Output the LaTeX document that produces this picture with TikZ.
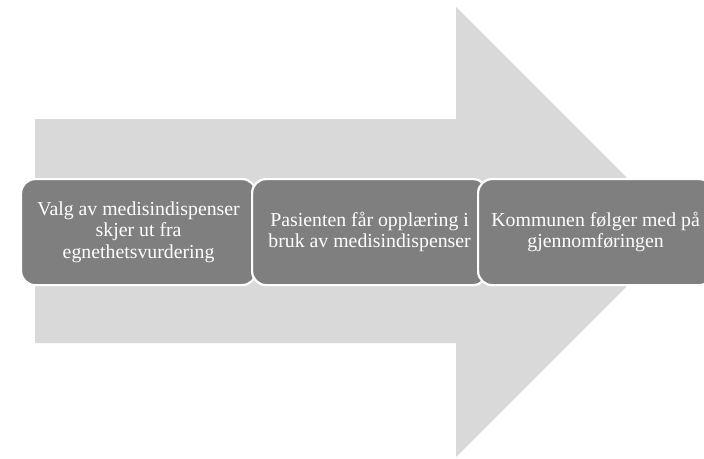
\documentclass[tikz,border=0pt]{standalone}
\usepackage{fontspec}
\setmainfont{Liberation Serif}
\definecolor{arrowgray}{HTML}{D9D9D9}
\definecolor{boxgray}{HTML}{7F7F7F}
\begin{document}
\begin{tikzpicture}[x=1pt,y=-1pt,
  stepbox/.style={draw=white, line width=2.2pt, fill=boxgray, rounded corners=14pt,
    text=white, align=center, font=\fontsize{19.8}{21.5}\selectfont,
    minimum width=235pt, minimum height=106pt, inner sep=0pt, anchor=north west}]
\useasboundingbox (0,0) rectangle (704,458);
\clip (0,0) rectangle (704,458);
\fill[arrowgray] (35,119) -- (456,119) -- (456,7) -- (681,232) -- (456,457) -- (456,343) -- (35,343) -- cycle;
\node[stepbox] (b1) at (20,178) {Valg av medisindispenser\\skjer ut fra\\egnethetsvurdering};
\node[stepbox] (b2) at (251,178) {Pasienten får opplæring i\\bruk av medisindispenser};
\node[stepbox] (b3) at (477,178) {Kommunen følger med på\\gjennomføringen};
\end{tikzpicture}
\end{document}
